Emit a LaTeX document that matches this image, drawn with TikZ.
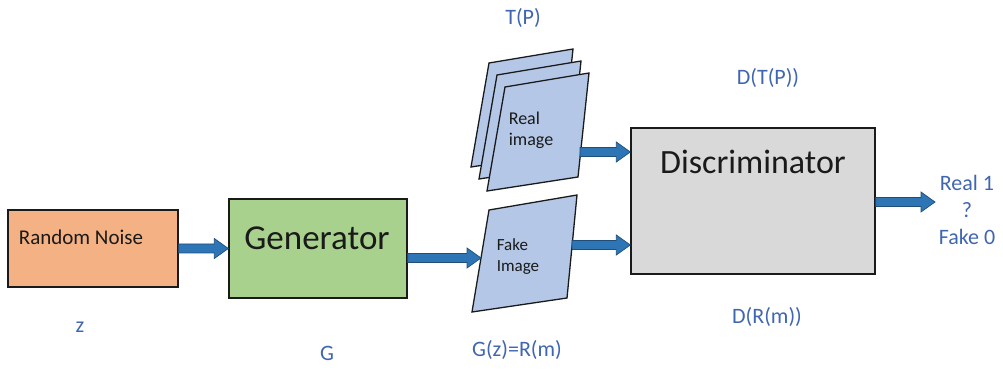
\documentclass[tikz,border=0pt]{standalone}
\usepackage{fontspec}
\setmainfont{Carlito}
\usetikzlibrary{calc}

\definecolor{noisefill}{HTML}{F4B183}
\definecolor{genfill}{HTML}{A9D18E}
\definecolor{discfill}{HTML}{D9D9D9}
\definecolor{sheetfill}{HTML}{B4C7E7}
\definecolor{arrowfill}{HTML}{2E75B6}
\definecolor{arrowedge}{HTML}{1F4E79}
\definecolor{labelblue}{HTML}{4066B0}
\definecolor{ink}{HTML}{1A1A1A}

% thick block arrow between two points (horizontal)
\newcommand\fatarrow[2]{%
  \draw[fatarrow] let \p1=(#1), \p2=(#2) in
    (\x1,\y1+4.5pt) -- (\x2-14pt,\y1+4.5pt) -- (\x2-14pt,\y1+10pt) -- (\x2,\y1)
    -- (\x2-14pt,\y1-10pt) -- (\x2-14pt,\y1-4.5pt) -- (\x1,\y1-4.5pt) -- cycle;}

\begin{document}
\begin{tikzpicture}[x=1pt,y=-1pt,
  box/.style={draw=ink, line width=1.4pt, inner sep=0pt},
  sheet/.style={draw=ink, line width=1.3pt, fill=sheetfill, line join=miter},
  fatarrow/.style={fill=arrowfill, draw=arrowedge, line width=0.7pt, line join=miter},
  boxtext/.style={text=ink, inner sep=0pt},
  tag/.style={text=labelblue, inner sep=0pt, font=\fontsize{22}{27}\selectfont}]
\useasboundingbox (0,0) rectangle (1003,371);

% generator side
\node[box, fill=noisefill, minimum width=170pt, minimum height=77pt] (noise) at (93,248.5) {};
\node[boxtext, font=\fontsize{21}{24}\selectfont] (noisetext) at (81,237) {Random Noise};
\node[box, fill=genfill, minimum width=178pt, minimum height=99pt] (gen) at (318,248.5) {};
\node[boxtext, font=\fontsize{35}{40}\selectfont] (gentext) at (317,238) {Generator};

% discriminator
\node[box, fill=discfill, minimum width=244pt, minimum height=146pt] (disc) at (753,201) {};
\node[boxtext, font=\fontsize{34}{40}\selectfont] (disctext) at (753,162) {Discriminator};

% stack of real images
\foreach \s in {2,1,0}
  \draw[sheet, shift={(-8*\s,-12*\s)}] (505,87) -- (589,73) -- (578,177) -- (487,191) -- cycle;
\node[boxtext, align=left, font=\fontsize{18}{21}\selectfont] (real) at (531,130) {Real\\image};

% generated image
\draw[sheet] (489,210) -- (577,195) -- (567,298) -- (472,312) -- cycle;
\node[boxtext, align=left, font=\fontsize{17}{21}\selectfont] (fake) at (518,257) {Fake\\Image};

% connection points on the sheet edges
\coordinate (fakeL) at (481,258);
\coordinate (fakeR) at (572,245);
\coordinate (realR) at (580,152);
\coordinate (outtip) at (935,202);

% output
\node[tag, align=center] (out) at (967,210) {Real 1\\?\\Fake 0};

% arrows
\fatarrow{noise.east}{gen.west}
\fatarrow{gen.east |- fakeL}{fakeL}
\fatarrow{realR}{disc.west |- realR}
\fatarrow{fakeR}{disc.west |- fakeR}
\fatarrow{disc.east |- outtip}{outtip}

% labels
\node[tag] (lz) at (80,327) {z};
\node[tag] (lg) at (327,353) {G};
\node[tag] (lgz) at (517,350) {G(z)=R(m)};
\node[tag] (ltp) at (523,18) {T(P)};
\node[tag] (ldt) at (768,78) {D(T(P))};
\node[tag] (ldr) at (767,317) {D(R(m))};
\end{tikzpicture}
\end{document}
